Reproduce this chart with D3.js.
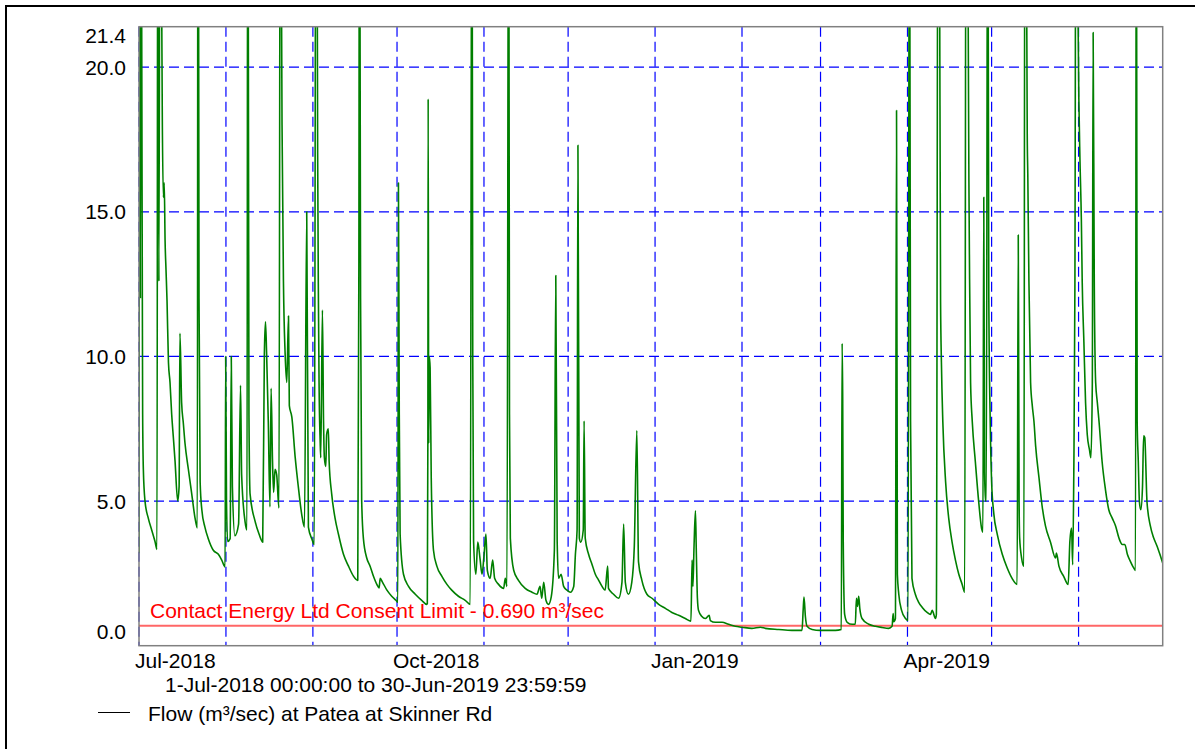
<!DOCTYPE html>
<html>
<head>
<meta charset="utf-8">
<script src="https://cdn.jsdelivr.net/npm/d3@7"></script>
<style>
  html, body { margin: 0; padding: 0; background: #fff; }
  svg { display: block; }
  text { font-family: "Liberation Sans", Arial, sans-serif; }
</style>
</head>
<body>
<svg id="chart" width="1195" height="749"></svg>
<script>
// ---------------- DATA ----------------
const periodStart = "2018-07-01T00:00:00Z";
const periodEnd = "2019-07-01T00:00:00Z";
const periodLabel = "1-Jul-2018 00:00:00 to 30-Jun-2019 23:59:59";
const seriesName = "Flow (m\u00B3/sec) at Patea at Skinner Rd";
const consentLimit = 0.690;
const consentLabel = "Contact Energy Ltd Consent Limit - 0.690 m\u00B3/sec";
const yTicks = [0, 5, 10, 15, 20, 21.4];
const yGrid = [5, 10, 15, 20];
const xLabelDates = ["2018-07-01", "2018-10-01", "2019-01-01", "2019-04-01"];

// [days since 1-Jul-2018, flow m3/s]  (peaks above 21.4 are off-scale)
const flowSeries = [
  [0,3.2],[0.3,30],[0.5,12],[0.7,30],[1.0,20],[1.3,8],[1.55,6.1],[2.14,5.0],[3.33,4.4],[4.52,4.0],
  [5.71,3.6],[6.42,3.33],[6.7,30],[7.1,12.6],[7.5,30],[8.1,22],[8.3,18.4],[8.7,15.5],[9.0,16],[9.3,14],
  [9.63,13.0],[10.0,11.9],[10.5,9.8],[11.06,9.1],[11.65,8.0],[12.25,7.2],[12.84,6.4],[13.8,5.0],[14.3,5.5],[14.6,10.8],
  [15.2,8.4],[15.8,7.7],[16.4,7.0],[17.6,6.1],[18.8,5.25],[20.0,4.4],[20.8,4.07],[21.05,35],[21.4,12],[21.8,5.66],
  [22.4,4.7],[23.5,4.1],[24.7,3.7],[26.5,3.3],[28.3,3.16],[29.5,2.96],[30.7,2.72],[30.9,10.0],[31.2,5],[31.6,3.6],
  [32.5,3.7],[32.9,10.0],[33.3,5.5],[34.2,3.8],[35.5,4.2],[36.2,9.0],[36.6,5.9],[37.8,4.3],[38.5,4.0],[38.8,32],
  [39.2,8],[39.6,5.25],[41.4,4.3],[42.8,3.86],[44.1,3.58],[44.7,10.1],[45.1,11.2],[45.5,10.1],[46.1,7.75],[46.7,4.8],
  [47.1,8.9],[47.6,6.4],[48.0,5.3],[48.5,6.1],[49.1,5.9],[49.9,4.76],[50.4,30],[51.0,18],[51.5,12.6],[52.1,10.1],
  [52.7,9.1],[53.3,11.4],[53.6,8.3],[54.5,7.9],[55.7,6.5],[56.8,5.5],[58.0,4.55],[59.0,4.1],[59.8,15.0],[60.4,4.1],
  [61.6,3.7],[62.5,3.5],[63.1,30],[63.5,25],[63.7,17],[64.0,11.6],[64.2,9.1],[64.6,7.05],[64.8,6.5],[65.4,11.6],
  [65.8,7.75],[66.1,6.5],[66.6,6.2],[66.9,7.3],[67.5,7.5],[67.8,6.36],[68.7,5.25],[69.9,4.41],[71.1,3.86],[72.9,3.16],
  [74.7,2.75],[76.5,2.4],[78.0,2.26],[78.4,13.3],[78.6,30],[79.0,12],[79.4,5.0],[80.0,3.72],[81.2,3.03],[82.4,2.75],
  [83.6,2.4],[84.8,2.12],[85.6,2.0],[86.0,2.33],[86.8,2.2],[88.4,1.92],[90.1,1.71],[91.6,1.57],[92.3,1.5],[92.5,16.0],
  [92.8,8],[93.1,3.86],[94.3,2.47],[96.1,2.05],[98.5,1.78],[100.8,1.57],[102.6,1.43],[102.8,1.45],[103.0,7.3],[103.1,18.9],
  [103.3,7],[103.5,10.0],[103.8,9.6],[104.2,5.8],[105.0,3.3],[106.2,2.75],[108.0,2.4],[109.8,2.12],[111.5,1.92],[113.9,1.71],
  [116.3,1.57],[118.1,1.43],[118.7,30],[119.0,10],[119.3,3.6],[120.1,2.47],[120.8,3.58],[121.6,3.0],[122.3,2.47],[123.0,3.1],
  [123.7,3.86],[124.2,2.6],[125.2,2.33],[126.1,2.96],[126.8,2.33],[128.2,2.12],[130.0,1.98],[130.6,2.33],[131.2,2.05],[131.8,30],
  [132.1,8],[132.4,3.72],[133.6,2.61],[135.3,2.26],[137.7,1.98],[140.1,1.85],[141.9,1.78],[143.0,2.05],[143.6,1.64],[144.3,2.19],
  [145.1,1.57],[146.0,1.43],[147.0,1.7],[148.1,3.3],[148.6,12.8],[149.1,3.6],[149.6,2.33],[150.5,2.47],[151.4,2.05],[152.6,1.92],
  [153.8,1.85],[155.0,2.05],[155.6,3.16],[156.2,4],[156.5,17.3],[157.0,3.72],[157.5,3.58],[158.4,4],[158.7,7.77],[159.1,3.72],
  [160.3,3.16],[161.5,2.82],[162.7,2.47],[163.9,2.26],[165.1,2.05],[166.2,1.92],[167.1,2.75],[167.4,1.98],[169.2,1.78],[171.0,1.64],
  [172.2,2.19],[172.8,4.21],[173.4,2.19],[174.5,1.78],[175.7,2.19],[176.6,3.44],[177.5,7.44],[178.1,2.9],[179.3,2.26],[181.1,1.78],
  [182.9,1.64],[185.3,1.43],[187.7,1.29],[190.0,1.15],[192.4,1.05],[194.8,0.94],[196.8,0.85],[197.2,2.96],[197.5,2.05],[197.9,3.44],
  [198.4,4.66],[198.7,3.3],[199.1,1.64],[199.5,1.22],[200.7,1.01],[201.9,0.94],[203.3,1.05],[203.7,0.87],[205.5,0.81],[207.9,0.81],
  [210.2,0.74],[212.6,0.67],[215.0,0.64],[218.5,0.6],[221.6,0.64],[223.3,0.6],[228.1,0.56],[232.8,0.53],[236.4,0.53],[236.8,1.22],
  [237.1,1.68],[237.6,1.01],[238.2,0.67],[240.0,0.56],[242.9,0.53],[244.7,0.53],[248.3,0.53],[250.4,0.56],[250.7,10.45],[250.9,8.6],
  [251.1,3.58],[251.6,1.08],[252.5,0.81],[254.3,0.74],[255.4,0.74],[255.8,1.64],[256.2,1.36],[256.6,1.71],[257.0,1.29],[257.8,0.94],
  [260.2,0.74],[262.6,0.67],[264.9,0.63],[267.3,0.6],[268.5,0.67],[268.9,1.11],[269.1,0.83],[269.7,0.94],[270.1,18.5],[270.4,2.47],
  [270.9,1.78],[271.9,1.22],[273.3,0.94],[274.2,0.87],[274.7,30],[275.1,7.75],[275.6,2.33],[276.8,1.78],[278.0,1.5],[279.2,1.33],
  [281.0,1.15],[282.2,1.08],[282.8,1.22],[284.0,0.94],[284.3,1.08],[284.9,30],[285.4,25],[285.8,11.9],[286.1,9.8],[286.6,7.75],
  [287.6,5.66],[288.7,4.41],[289.9,3.58],[291.1,2.96],[292.3,2.47],[293.5,2.12],[294.4,1.85],[294.9,30],[295.5,25],[295.9,16.1],
  [296.1,13.3],[296.5,9.1],[297.1,7.75],[298.2,6.36],[299.4,4.97],[300.4,4.07],[300.9,3.93],[301.2,15.5],[301.5,6],[301.8,5.0],
  [302.1,5.0],[302.6,30],[303.0,12],[303.5,7.75],[304.0,5.66],[304.8,4.55],[306.0,3.86],[307.8,3.16],[309.6,2.68],[311.3,2.33],
  [313.1,2.12],[313.5,14.2],[313.8,5],[314.0,3.72],[314.7,3.03],[315.5,2.75],[315.9,30],[316.4,25],[316.7,17.7],[316.9,16.3],
  [317.3,12.6],[317.9,9.1],[318.5,8.3],[319.1,7.75],[319.7,6.9],[320.9,5.8],[322.0,4.83],[323.2,4.14],[325.0,3.58],[326.8,3.03],
  [327.1,3.2],[328.0,2.75],[329.7,2.4],[331.3,2.12],[331.9,3.6],[332.5,4.07],[332.9,2.8],[333.3,5.94],[333.7,12.5],[334.1,30],
  [334.5,25],[335.1,18.9],[335.5,16.8],[336.0,14.7],[336.3,12.6],[336.9,10.5],[337.5,8.4],[338.1,7.3],[338.9,6.77],[339.4,6.5],
  [339.9,9],[340.2,21.2],[340.6,12.6],[341.1,9.1],[341.7,8.4],[342.3,7.75],[343.4,6.36],[344.6,5.39],[345.8,4.69],[347.0,4.41],
  [348.2,4.14],[349.4,3.72],[350.6,3.5],[351.5,3.5],[352.4,3.16],[353.6,2.89],[354.7,2.68],[355.3,2.6],[355.6,30],[355.9,7.75],
  [356.3,6.36],[356.7,4.97],[357.2,4.7],[357.8,5.5],[358.2,7.26],[358.6,7.2],[359.4,4.97],[360.6,4.14],[361.8,3.72],[363.0,3.44],
  [364.2,3.1],[365.0,2.86]
];

// ---------------- LAYOUT ----------------
const W = 1195, H = 749;
const plot = { left: 139, top: 26.7, right: 1162.7, bottom: 645.7 };
const FONT = 21;

const svg = d3.select("#chart");
const t0 = new Date(periodStart), t1 = new Date(periodEnd);
const x = d3.scaleUtc().domain([t0, t1]).range([plot.left, plot.right]);
const y = d3.scaleLinear().domain([0, 21.4]).range([plot.bottom, plot.top]);
const toDate = d => new Date(t0.getTime() + d * 864e5);

// outer frame
svg.append("rect").attr("x", 6).attr("y", 6).attr("width", W + 20).attr("height", H + 20)
  .attr("fill", "none").attr("stroke", "#000").attr("stroke-width", 2);

// clip
svg.append("clipPath").attr("id", "clip").append("rect")
  .attr("x", plot.left).attr("y", plot.top)
  .attr("width", plot.right - plot.left).attr("height", plot.bottom - plot.top);

// grid
const grid = svg.append("g");
const months = d3.utcMonth.range(t0, t1);
grid.selectAll("line.v").data(months).join("line")
  .attr("x1", d => x(d)).attr("x2", d => x(d))
  .attr("y1", plot.top).attr("y2", plot.bottom)
  .attr("stroke", "#0000ff").attr("stroke-width", 1.2).attr("stroke-dasharray", "10,5");
grid.selectAll("line.h").data(yGrid).join("line")
  .attr("x1", plot.left).attr("x2", plot.right)
  .attr("y1", d => y(d)).attr("y2", d => y(d))
  .attr("stroke", "#0000ff").attr("stroke-width", 1.2).attr("stroke-dasharray", "10,5");

// consent limit
svg.append("line")
  .attr("x1", plot.left).attr("x2", plot.right)
  .attr("y1", y(consentLimit)).attr("y2", y(consentLimit))
  .attr("stroke", "#ff0000").attr("stroke-opacity", 0.6).attr("stroke-width", 2);
svg.append("text").attr("x", 150).attr("y", 618)
  .attr("fill", "#ff0000").attr("font-size", FONT).text(consentLabel);

// flow line
const line = d3.line().curve(d3.curveMonotoneX).x(d => x(toDate(d[0]))).y(d => y(d[1]));
svg.append("path").datum(flowSeries)
  .attr("clip-path", "url(#clip)")
  .attr("d", line).attr("fill", "none")
  .attr("stroke", "#007f00").attr("stroke-width", 1.6).attr("stroke-linejoin", "round");

// plot frame
svg.append("rect")
  .attr("x", plot.left).attr("y", plot.top)
  .attr("width", plot.right - plot.left).attr("height", plot.bottom - plot.top)
  .attr("fill", "none").attr("stroke", "#808080").attr("stroke-width", 1.5);

// y labels (clamped inside plot)
svg.append("g").selectAll("text").data(yTicks).join("text")
  .attr("x", 126).attr("text-anchor", "end")
  .attr("y", d => Math.min(Math.max(y(d), plot.top + 9), plot.bottom - 14))
  .attr("dy", "0.36em").attr("font-size", FONT)
  .text(d => d3.format(".1f")(d));

// x labels
const fmt = d3.utcFormat("%b-%Y");
svg.append("g").selectAll("text").data(xLabelDates.map(s => new Date(s + "T00:00:00Z"))).join("text")
  .attr("x", d => x(d) - 4).attr("y", 668)
  .attr("font-size", FONT).text(d => fmt(d));

// period label
svg.append("text").attr("x", 165).attr("y", 692).attr("font-size", FONT).text(periodLabel);

// legend
svg.append("line").attr("x1", 98).attr("x2", 130).attr("y1", 712.5).attr("y2", 712.5)
  .attr("stroke", "#000").attr("stroke-width", 1);
svg.append("text").attr("x", 148).attr("y", 721).attr("font-size", FONT).text(seriesName);
</script>
</body>
</html>
